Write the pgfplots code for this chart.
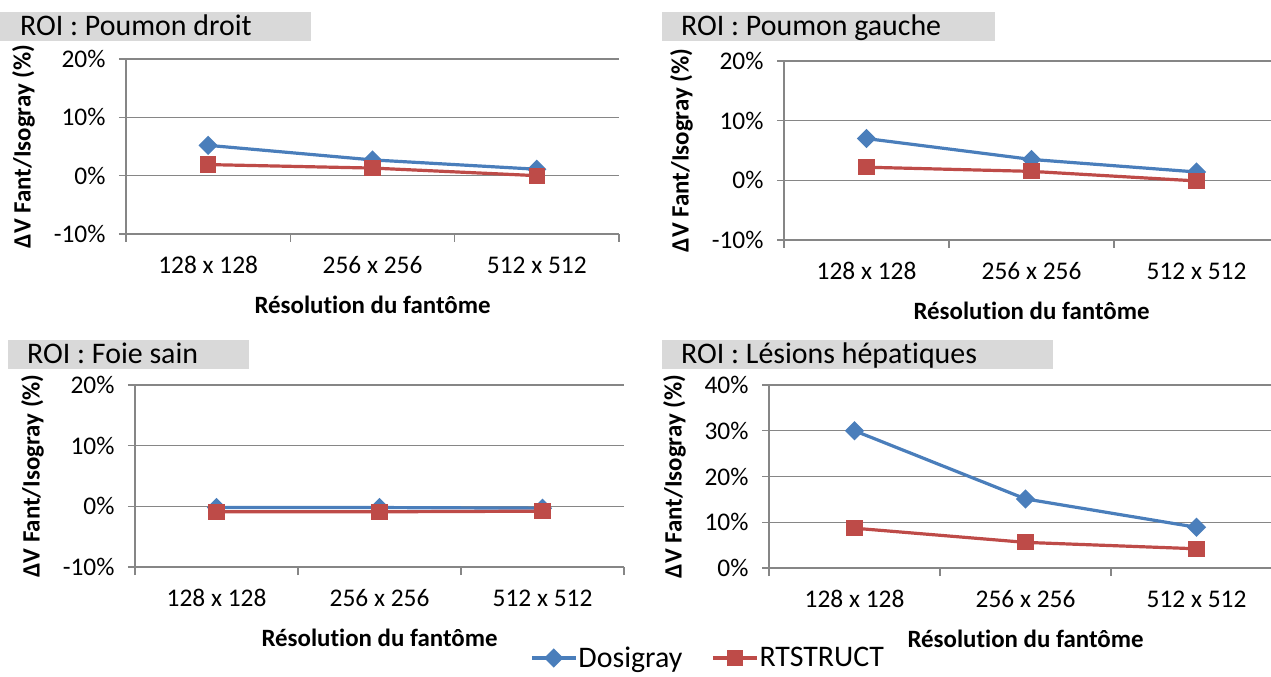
\documentclass[border=0pt]{standalone}
\usepackage{fontspec}
\setmainfont{Carlito}[Ligatures={TeX,NoCommon}]
\usepackage{pgfplots}
\pgfplotsset{compat=1.18}

\definecolor{dosi}{HTML}{4A7EBB}
\definecolor{rts}{HTML}{BE4B48}
\definecolor{gridc}{HTML}{868686}
\definecolor{boxc}{HTML}{D9D9D9}

\pgfplotsset{
  roi/.style={
    scale only axis,
    axis x line=bottom, axis y line=left,
    axis line style={gridc, line width=1.3bp, -},
    xmin=-0.5, xmax=2.5,
    xtick={0,1,2},
    xticklabels={128 x 128, 256 x 256, 512 x 512},
    major x tick style={draw=none},
    minor xtick={-0.5,0.5,1.5,2.5},
    minor x tick style={gridc, line width=1.3bp},
    minor tick length=8bp,
    major tick length=7bp,
    tick align=outside,
    ytick style={gridc, line width=1.3bp},
    ymajorgrids,
    major grid style={gridc, line width=1.3bp},
    tick label style={font=\fontsize{25.5}{29}\selectfont, black},
    xticklabel style={yshift=-12bp},
    yticklabel style={xshift=-10bp},
    label style={font=\bfseries\fontsize{25}{29}\selectfont},
    xlabel={Résolution du fantôme},
    ylabel={ΔV Fant/Isogray (\%)},
    xlabel shift=15bp,
    ylabel shift=12bp,
    clip=false,
    legend image code/.code={\draw[mark repeat=2,mark phase=2,##1]
      plot coordinates {(0bp,0bp)(22bp,0bp)(44bp,0bp)};},
  },
  dosistyle/.style={dosi, line width=3.2bp, mark=square*, mark size=5.2bp,
    mark options={rotate=45, solid, fill=dosi}},
  rtsstyle/.style={rts, line width=3.2bp, mark=square*, mark size=6.5bp,
    mark options={solid, fill=rts}},
}

\newcommand{\roititle}[5]{%
  \fill[boxc] (#1,#2) rectangle (#3,#2+29bp);
  \node[anchor=base west, inner sep=0pt, font=\fontsize{30}{34}\selectfont]
    at (#4,#2+5bp) {#5};}

\begin{document}
\begin{tikzpicture}
\path[use as bounding box] (0,0) rectangle (1271bp,677bp);

% titles
\roititle{0bp}{636bp}{311bp}{20bp}{ROI : Poumon droit}
\roititle{662bp}{636bp}{995bp}{681bp}{ROI : Poumon gauche}
\roititle{8bp}{308bp}{249bp}{27bp}{ROI : Foie sain}
\roititle{662bp}{308bp}{1053bp}{681bp}{ROI : Lésions hépatiques}

% Poumon droit
\begin{axis}[roi, at={(126bp,443bp)}, anchor=south west,
  width=493bp, height=175bp,
  ymin=-10, ymax=20, ytick={-10,0,10,20},
  yticklabels={-10\%,0\%,10\%,20\%}]
\addplot[dosistyle] coordinates {(0,5.2) (1,2.7) (2,1.1)};
\addplot[rtsstyle] coordinates {(0,1.9) (1,1.3) (2,0.0)};
\end{axis}

% Poumon gauche
\begin{axis}[roi, at={(784bp,437bp)}, anchor=south west,
  width=495bp, height=179bp,
  ymin=-10, ymax=20, ytick={-10,0,10,20},
  yticklabels={-10\%,0\%,10\%,20\%}]
\addplot[dosistyle] coordinates {(0,7.0) (1,3.5) (2,1.4)};
\addplot[rtsstyle] coordinates {(0,2.2) (1,1.5) (2,-0.1)};
\end{axis}

% Foie sain
\begin{axis}[roi, at={(135bp,110bp)}, anchor=south west,
  width=489bp, height=182bp,
  ymin=-10, ymax=20, ytick={-10,0,10,20},
  yticklabels={-10\%,0\%,10\%,20\%},
  legend style={at={(1.171,-0.50)}, anchor=center, draw=none,
    fill=none, legend columns=2, font=\fontsize{30}{34}\selectfont,
    nodes={inner xsep=1bp, inner ysep=1bp},
    /tikz/every even column/.append style={column sep=28bp}}]
\addplot[dosistyle] coordinates {(0,-0.2) (1,-0.2) (2,-0.3)};
\addlegendentry{Dosigray}
\addplot[rtsstyle] coordinates {(0,-0.9) (1,-0.9) (2,-0.8)};
\addlegendentry{RTSTRUCT}
\end{axis}

% Lesions hepatiques
\begin{axis}[roi, at={(769bp,109bp)}, anchor=south west,
  width=513bp, height=183bp,
  ymin=0, ymax=40, ytick={0,10,20,30,40},
  yticklabels={0\%,10\%,20\%,30\%,40\%}]
\addplot[dosistyle] coordinates {(0,30.0) (1,15.1) (2,8.9)};
\addplot[rtsstyle] coordinates {(0,8.7) (1,5.6) (2,4.2)};
\end{axis}
\end{tikzpicture}
\end{document}
